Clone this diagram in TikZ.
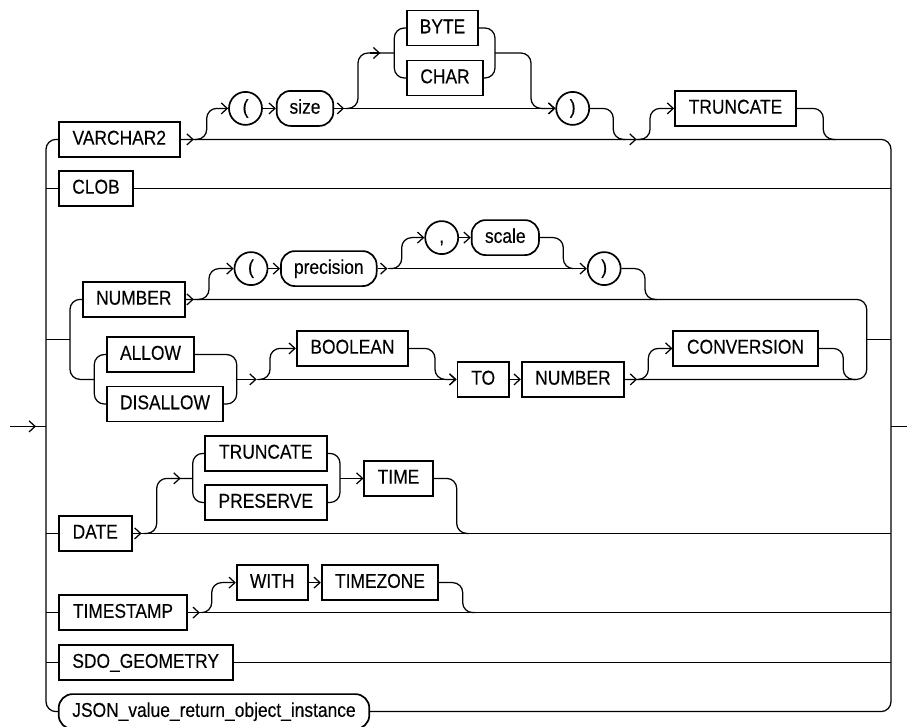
\documentclass[tikz,border=0pt]{standalone}
\usepackage{fontspec}
\newfontfamily\kwfont{Liberation Sans}[FakeStretch=0.87,FakeBold=0.25]
\usetikzlibrary{arrows.meta,calc}
\begin{document}
\begin{tikzpicture}[x=1pt,y=-1pt]
\tikzset{
 kw/.style={draw, line width=1.7pt, minimum height=35pt, inner sep=0pt, text height=14.5pt, text depth=4pt, font=\kwfont\fontsize{20}{24}\selectfont},
 var/.style={kw, rounded corners=14pt},
 rnd/.style={kw, circle, minimum size=33pt},
 ln/.style={line width=1.25pt, rounded corners=10pt},
 arr/.style={ln, -{Straight Barb[length=6pt,width=11pt]}},
}
\useasboundingbox (0,0) rectangle (907,726);

% ---------- nodes ----------
\node[kw, minimum width=121.3pt] (vc) at (119.3,139.4) {VARCHAR2};
\node[rnd] (lp1) at (245.5,108.4) {(};
\node[var, minimum width=56.6pt] (size) at (305,108.4) {size};
\node[kw, minimum width=71.6pt] (byte) at (442.5,28) {BYTE};
\node[kw, minimum width=76.6pt] (char) at (445,78) {CHAR};
\node[rnd] (rp1) at (572.7,108.4) {)};
\node[kw, minimum width=121pt] (trunc1) at (735.5,108.4) {TRUNCATE};
\node[kw, minimum width=74.6pt] (clob) at (96,188.4) {CLOB};
\node[kw, minimum width=102.3pt] (num) at (133.8,299.4) {NUMBER};
\node[rnd] (lp2) at (251,268.6) {(};
\node[var, minimum width=95.7pt] (prec) at (328.8,268.6) {precision};
\node[rnd] (comma) at (441.7,237.6) {,};
\node[var, minimum width=67.3pt] (scale) at (505.3,237.6) {scale};
\node[rnd] (rp2) at (604.2,268.6) {)};
\node[kw, minimum width=87.6pt] (allow) at (150.5,354.5) {ALLOW};
\node[kw, minimum width=116.6pt] (disallow) at (165,404) {DISALLOW};
\node[kw, minimum width=111.6pt] (bool) at (352.5,348.4) {BOOLEAN};
\node[kw, minimum width=51.7pt] (to) at (483.2,379.4) {TO};
\node[kw, minimum width=102.6pt] (num2) at (573,379.4) {NUMBER};
\node[kw, minimum width=144.4pt] (conv) at (745.5,348.4) {CONVERSION};
\node[kw, minimum width=73pt] (date) at (95.2,533.4) {DATE};
\node[kw, minimum width=121.7pt] (trunc2) at (265.8,453.4) {TRUNCATE};
\node[kw, minimum width=121.7pt] (pres) at (265.8,502.5) {PRESERVE};
\node[kw, minimum width=68.4pt] (time) at (398.5,478.4) {TIME};
\node[kw, minimum width=128.6pt] (ts) at (123,612.6) {TIMESTAMP};
\node[kw, minimum width=71pt] (with) at (272.2,582.6) {WITH};
\node[kw, minimum width=116.6pt] (tz) at (380,582.6) {TIMEZONE};
\node[kw, minimum width=174pt] (sdo) at (145.7,662.6) {SDO\_GEOMETRY};
\node[var, minimum width=310.6pt] (json) at (214,711.6) {JSON\_value\_return\_object\_instance};

% ---------- coordinates ----------
\coordinate (in) at (10,426.4);
\coordinate (L) at (46,426.4);
\coordinate (R) at (891,426.4);
\coordinate (out) at (907,426.4);
\coordinate (t1) at (206.7,108.4);
\coordinate (t2) at (358,53);
\coordinate (bcL) at (394.3,53);
\coordinate (bcR) at (495,53);
\coordinate (t3) at (531,108.4);
\coordinate (t4) at (613.3,139.4);
\coordinate (t5) at (650,108.4);
\coordinate (t6) at (823.3,139.4);
\coordinate (Lg) at (70,339.4);
\coordinate (ar) at (94.3,379.4);
\coordinate (adR) at (236.7,379.4);
\coordinate (t7) at (270,348.4);
\coordinate (t8) at (435,379.4);
\coordinate (Rg) at (866.7,339.4);
\coordinate (t9) at (648.3,348.4);
\coordinate (t10) at (843.3,379.4);
\coordinate (t11) at (209,268.6);
\coordinate (t12) at (401.7,237.6);
\coordinate (t13) at (563.3,268.6);
\coordinate (t14) at (645,299.4);
\coordinate (t15) at (156.7,478.4);
\coordinate (dL) at (192.7,478.4);
\coordinate (dR) at (340,478.4);
\coordinate (t16) at (456.7,533.4);
\coordinate (t17) at (211.7,582.6);
\coordinate (t18) at (462.7,612.6);

% ---------- main frame ----------
\draw[ln] (in) -- (L);
\draw[arr] (in) -- ($(L)+(-10,0)$);
\draw[ln] (R) -- (out);
\draw[ln] (vc.west) -- (vc.west -| L) -- (json.west -| L) -- (json.west);
\draw[ln] (vc.east) -- (vc.east -| R) -- (json.east -| R) -- (json.east);
\draw[ln] (clob.west -| L) -- (clob.west);
\draw[ln] (clob.east) -- (clob.east -| R);
\draw[ln] (date.west -| L) -- (date.west);
\draw[ln] (date.east) -- (date.east -| R);
\draw[ln] (ts.west -| L) -- (ts.west);
\draw[ln] (ts.east) -- (ts.east -| R);
\draw[ln] (sdo.west -| L) -- (sdo.west);
\draw[ln] (sdo.east) -- (sdo.east -| R);

% ---------- VARCHAR2 row ----------
\draw[arr] (vc.east) -- ++(13,0);
\draw[arr] ($(vc.east)+(14,0)$) -| (t1) -- (lp1.west);
\draw[arr] (lp1.east) -- (size.west);
\draw[arr] (size.east) -- ++(10,0);
\draw[arr] ($(size.east)+(10,0)$) -- (rp1.west);
\draw[ln] ($(size.east)+(12,0)$) -| (t2) -- (bcL);
\draw[arr] ($(bcL)+(-24,0)$) -- ($(bcL)+(-14,0)$);
\draw[ln] (byte.west) -- (byte.west -| bcL) -- (char.west -| bcL) -- (char.west);
\draw[ln] (byte.east) -- (byte.east -| bcR) -- (char.east -| bcR) -- (char.east);
\draw[arr] (bcR) -| (t3) -- (rp1.west);
\draw[ln] (rp1.east) -| (t4) -- ++(12,0);
\draw[arr] ($(t4)+(12,0)$) -- ($(t4)+(23.4,0)$);
\draw[arr] ($(t4)+(24,0)$) -| (t5) -- (trunc1.west);
\draw[ln] (trunc1.east) -| (t6) -- ++(12,0);

% ---------- NUMBER group ----------
\draw[ln] (Lg -| L) -- (Lg);
\draw[ln] (num.west) -- (num.west -| Lg) -- (ar -| Lg) -- (ar);
\draw[ln] (allow.west) -- (allow.west -| ar) -- (disallow.west -| ar) -- (disallow.west);
\draw[ln] (allow.east) -- (allow.east -| adR) -- (disallow.east -| adR) -- (disallow.east);
\draw[arr] (adR) -- ++(20,0);
\draw[arr] ($(adR)+(20,0)$) -- (to.west);
\draw[arr] ($(adR)+(22,0)$) -| (t7) -- (bool.west);
\draw[arr] (bool.east) -| (t8) -- (to.west);
\draw[arr] (to.east) -- (num2.west);
\draw[ln] (num.east) -- (num.east -| Rg) -- (num2.east -| Rg) -- (num2.east);
\draw[ln] (Rg) -- (Rg -| R);
\draw[arr] (num2.east) -- ++(12,0);
\draw[arr] ($(num2.east)+(14,0)$) -| (t9) -- (conv.west);
\draw[ln] (conv.east) -| (t10) -- ++(13,0);

% NUMBER row options
\draw[arr] (num.east) -- ++(8,0);
\draw[arr] ($(num.east)+(11,0)$) -| (t11) -- (lp2.west);
\draw[arr] (lp2.east) -- (prec.west);
\draw[arr] (prec.east) -- ++(10,0);
\draw[arr] ($(prec.east)+(10,0)$) -- (rp2.west);
\draw[arr] ($(prec.east)+(12,0)$) -| (t12) -- (comma.west);
\draw[arr] (comma.east) -- (scale.west);
\draw[ln] (scale.east) -| (t13) -- ($(t13)+(10,0)$);
\draw[ln] (rp2.east) -| (t14) -- ++(12,0);

% ---------- DATE row ----------
\draw[arr] (date.east) -- ++(9,0);
\draw[ln] ($(date.east)+(11,0)$) -| (t15) -- (dL);
\draw[arr] ($(dL)+(-22,0)$) -- ($(dL)+(-12,0)$);
\draw[ln] (trunc2.west) -- (trunc2.west -| dL) -- (pres.west -| dL) -- (pres.west);
\draw[ln] (trunc2.east) -- (trunc2.east -| dR) -- (pres.east -| dR) -- (pres.east);
\draw[arr] (dR) -- (time.west);
\draw[ln] (time.east) -| (t16) -- ++(12,0);

% ---------- TIMESTAMP row ----------
\draw[arr] (ts.east) -- ++(11.7,0);
\draw[arr] ($(ts.east)+(14,0)$) -| (t17) -- (with.west);
\draw[arr] (with.east) -- (tz.west);
\draw[ln] (tz.east) -| (t18) -- ++(12,0);
\end{tikzpicture}
\end{document}
